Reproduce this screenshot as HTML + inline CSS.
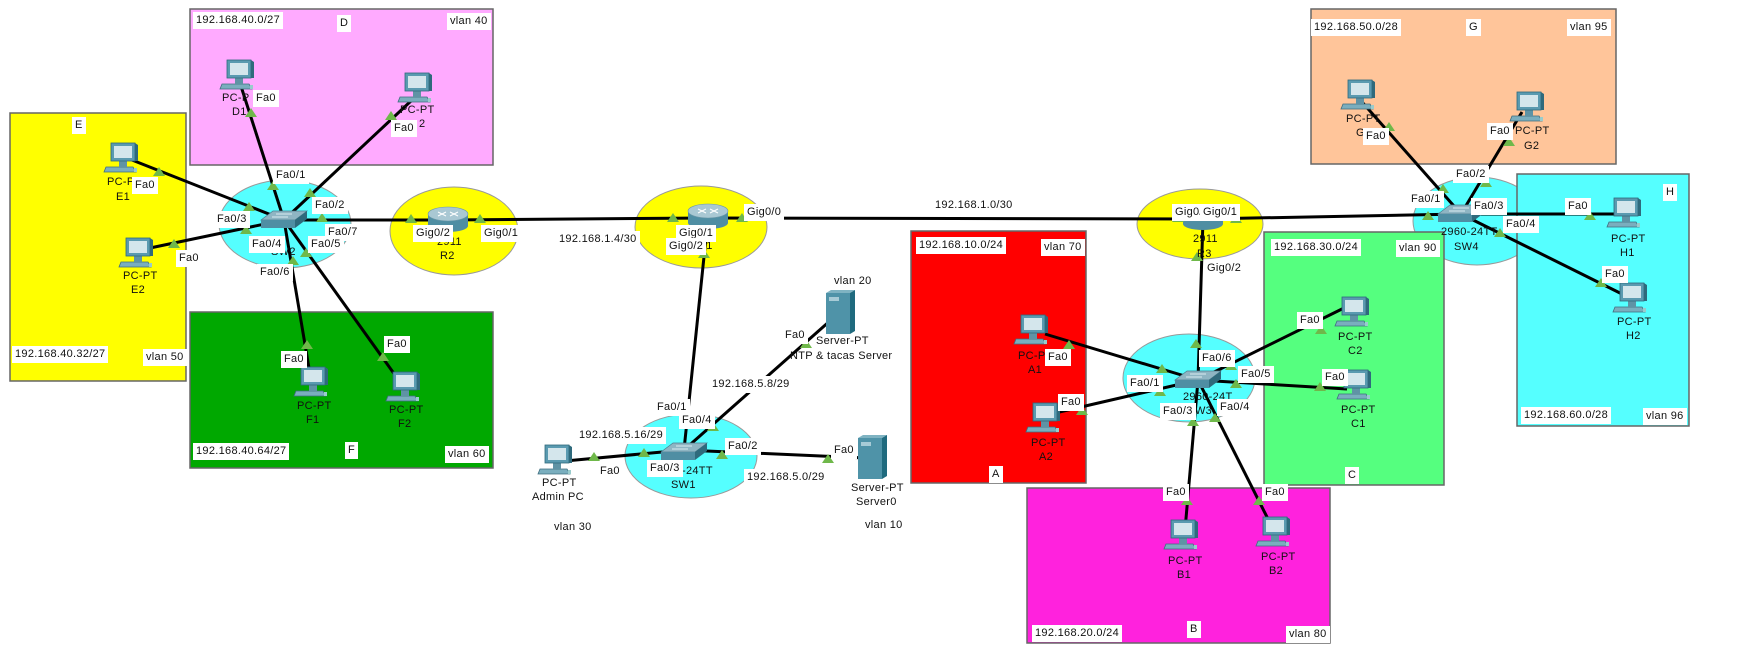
<!DOCTYPE html>
<html><head><meta charset="utf-8"><style>
html,body{margin:0;padding:0;background:#fff;}
#c{position:relative;width:1749px;height:672px;overflow:hidden;font-family:"Liberation Sans",sans-serif;}
svg{position:absolute;left:0;top:0;}
.l{position:absolute;background:#fff;font-size:11px;line-height:13px;padding:2px 3px;color:#111;white-space:nowrap;letter-spacing:0.3px;}
.t{position:absolute;font-size:11px;line-height:13px;color:#111;white-space:nowrap;text-align:center;letter-spacing:0.3px;}
</style></head><body><div id="c">
<svg width="1749" height="672" viewBox="0 0 1749 672">
<defs>
<g id="pc">
<polygon points="-17,9 10,9 13,14 -19,14" fill="#7aaebe" stroke="#3f6f80" stroke-width="0.8"/>
<rect x="-4" y="2" width="8" height="7" fill="#5f93a5"/>
<polygon points="12,-15 15,-13 15,3 12,3" fill="#2f6a7c"/>
<rect x="-12" y="-15" width="24" height="18" fill="#5a9ab0" stroke="#2f6a7c" stroke-width="0.8"/>
<rect x="-9" y="-12" width="18" height="12" fill="#d4e6ec"/>
<rect x="11" y="10" width="3" height="4" fill="#9cc"/>
</g>
<g id="sw">
<polygon points="-13,-8 21,-8 9,1 -25,1" fill="#8fb5c3" stroke="#4c7f90" stroke-width="0.7"/>
<line x1="-10" y1="-5" x2="6" y2="-5" stroke="#d8eaf0" stroke-width="1"/>
<line x1="-14" y1="-2" x2="2" y2="-2" stroke="#d8eaf0" stroke-width="1"/>
<rect x="-25" y="1" width="34" height="8" fill="#4f8ea3"/>
<polygon points="9,1 21,-8 21,0 9,9" fill="#2f6a7c"/>
</g>
<g id="rt">
<rect x="-20" y="-4" width="40" height="12" fill="#4f8ea3"/>
<ellipse cx="0" cy="8" rx="20" ry="6" fill="#4f8ea3"/>
<ellipse cx="0" cy="-4" rx="20" ry="7" fill="#a9c8d3" stroke="#6a98a8" stroke-width="0.6"/>
<path d="M-10,-6 L-2,-2 M2,-6 L10,-2 M-10,-2 L-2,-6 M2,-2 L10,-6" stroke="#fff" stroke-width="1"/>
</g>
<g id="srv">
<polygon points="-12,-20 -7,-23 17,-23 12,-20" fill="#7fb3c2"/>
<polygon points="12,-20 17,-23 17,18 12,21" fill="#1f6a7e"/>
<rect x="-12" y="-20" width="24" height="41" fill="#4f93a8"/>
<rect x="-9" y="-16" width="10" height="4" fill="#a7cbd6"/>
</g>
<g id="tr"><polygon points="0,-5 6,4 -6,4" fill="#6fb84a"/></g>
</defs>
<rect x="190" y="9" width="303" height="156" fill="#ffaaff" stroke="#666" stroke-width="1.5"/>
<rect x="10" y="113" width="176" height="268" fill="#ffff00" stroke="#666" stroke-width="1.5"/>
<rect x="190" y="312" width="303" height="156" fill="#00a800" stroke="#666" stroke-width="1.5"/>
<rect x="1311" y="9" width="305" height="155" fill="#ffc59a" stroke="#666" stroke-width="1.5"/>
<ellipse cx="1477" cy="221" rx="64" ry="44" fill="#55ffff" stroke="#999" stroke-width="1"/>
<rect x="1517" y="174" width="172" height="252" fill="#55ffff" stroke="#666" stroke-width="1.5"/>
<rect x="911" y="231" width="175" height="252" fill="#ff0000" stroke="#666" stroke-width="1.5"/>
<ellipse cx="1189" cy="378" rx="66" ry="44" fill="#55ffff" stroke="#999" stroke-width="1"/>
<rect x="1264" y="232" width="180" height="253" fill="#55ff7f" stroke="#666" stroke-width="1.5"/>
<rect x="1027" y="488" width="303" height="155" fill="#ff22dd" stroke="#666" stroke-width="1.5"/>
<ellipse cx="285" cy="224" rx="66" ry="44" fill="#55ffff" stroke="#999" stroke-width="1"/>
<ellipse cx="454" cy="231" rx="64" ry="44" fill="#ffff00" stroke="#999" stroke-width="1"/>
<ellipse cx="701" cy="227" rx="66" ry="41" fill="#ffff00" stroke="#999" stroke-width="1"/>
<ellipse cx="1200" cy="224" rx="63" ry="35" fill="#ffff00" stroke="#999" stroke-width="1"/>
<ellipse cx="691" cy="456" rx="66" ry="42" fill="#55ffff" stroke="#999" stroke-width="1"/>
<g stroke="#000" stroke-width="3" fill="none">
<line x1="284" y1="220" x2="239" y2="80"/>
<line x1="284" y1="220" x2="412" y2="100"/>
<line x1="284" y1="220" x2="132" y2="160"/>
<line x1="284" y1="220" x2="150" y2="248"/>
<line x1="284" y1="220" x2="311" y2="380"/>
<line x1="284" y1="220" x2="400" y2="382"/>
<line x1="284" y1="220" x2="448" y2="220"/>
<line x1="448" y1="220" x2="708" y2="218"/>
<line x1="708" y1="218" x2="1203" y2="219"/>
<line x1="1203" y1="219" x2="1461" y2="214"/>
<line x1="708" y1="218" x2="684" y2="450"/>
<line x1="684" y1="450" x2="840" y2="312"/>
<line x1="684" y1="450" x2="565" y2="461"/>
<line x1="684" y1="450" x2="866" y2="458"/>
<line x1="1203" y1="219" x2="1198" y2="380"/>
<line x1="1198" y1="380" x2="1045" y2="334"/>
<line x1="1198" y1="380" x2="1055" y2="413"/>
<line x1="1198" y1="380" x2="1346" y2="307"/>
<line x1="1198" y1="380" x2="1347" y2="389"/>
<line x1="1198" y1="380" x2="1185" y2="530"/>
<line x1="1198" y1="380" x2="1270" y2="523"/>
<line x1="1461" y1="214" x2="1362" y2="102"/>
<line x1="1461" y1="214" x2="1522" y2="112"/>
<line x1="1461" y1="214" x2="1620" y2="214"/>
<line x1="1461" y1="214" x2="1626" y2="296"/>
</g>
<use href="#pc" x="239" y="75"/><use href="#pc" x="417" y="88"/>
<use href="#pc" x="123" y="158"/><use href="#pc" x="138" y="253"/>
<use href="#pc" x="313" y="382"/><use href="#pc" x="405" y="387"/>
<use href="#pc" x="557" y="460"/>
<use href="#pc" x="1033" y="330"/><use href="#pc" x="1045" y="418"/>
<use href="#pc" x="1183" y="535"/><use href="#pc" x="1275" y="532"/>
<use href="#pc" x="1354" y="312"/><use href="#pc" x="1356" y="385"/>
<use href="#pc" x="1360" y="95"/><use href="#pc" x="1529" y="107"/>
<use href="#pc" x="1626" y="213"/><use href="#pc" x="1632" y="298"/>
<use href="#srv" x="838" y="313"/><use href="#srv" x="870" y="458"/>
<use href="#sw" x="286" y="219"/><use href="#sw" x="686" y="451"/>
<use href="#sw" x="1200" y="379"/><use href="#sw" x="1463" y="213"/>
<use href="#rt" x="448" y="218"/><use href="#rt" x="708" y="215"/><use href="#rt" x="1203" y="216"/>
<use href="#tr" x="251" y="113"/><use href="#tr" x="273" y="186"/>
<use href="#tr" x="391" y="116"/><use href="#tr" x="310" y="193"/>
<use href="#tr" x="159" y="172"/><use href="#tr" x="249" y="207"/>
<use href="#tr" x="174" y="244"/><use href="#tr" x="246" y="230"/>
<use href="#tr" x="307" y="345"/><use href="#tr" x="293" y="261"/>
<use href="#tr" x="383" y="357"/><use href="#tr" x="306" y="253"/>
<use href="#tr" x="322" y="218"/><use href="#tr" x="411" y="219"/>
<use href="#tr" x="480" y="219"/><use href="#tr" x="673" y="218"/>
<use href="#tr" x="742" y="218"/><use href="#tr" x="1178" y="218"/>
<use href="#tr" x="1236" y="219"/><use href="#tr" x="1428" y="216"/>
<use href="#tr" x="1389" y="127"/><use href="#tr" x="1443" y="189"/>
<use href="#tr" x="1509" y="142"/><use href="#tr" x="1486" y="183"/>
<use href="#tr" x="1590" y="216"/><use href="#tr" x="1601" y="283"/><use href="#tr" x="1500" y="233"/>
<use href="#tr" x="704" y="254"/>
<use href="#tr" x="806" y="344"/><use href="#tr" x="713" y="427"/>
<use href="#tr" x="594" y="457"/><use href="#tr" x="644" y="453"/>
<use href="#tr" x="722" y="455"/><use href="#tr" x="828" y="459"/>
<use href="#tr" x="1197" y="257"/><use href="#tr" x="1196" y="344"/>
<use href="#tr" x="1069" y="345"/><use href="#tr" x="1162" y="369"/>
<use href="#tr" x="1082" y="411"/><use href="#tr" x="1160" y="392"/>
<use href="#tr" x="1321" y="330"/><use href="#tr" x="1231" y="366"/>
<use href="#tr" x="1320" y="387"/><use href="#tr" x="1236" y="384"/>
<use href="#tr" x="1187" y="501"/><use href="#tr" x="1193" y="422"/>
<use href="#tr" x="1259" y="501"/><use href="#tr" x="1215" y="418"/>
</svg>
<div class="t" style="left:222px;top:92px">PC-P</div><div class="t" style="left:232px;top:106px">D1</div>
<div class="t" style="left:400px;top:104px">PC-PT</div><div class="t" style="left:419px;top:118px">2</div>
<div class="t" style="left:107px;top:176px">PC-P</div><div class="t" style="left:116px;top:191px">E1</div>
<div class="t" style="left:123px;top:270px">PC-PT</div><div class="t" style="left:131px;top:284px">E2</div>
<div class="t" style="left:297px;top:400px">PC-PT</div><div class="t" style="left:306px;top:414px">F1</div>
<div class="t" style="left:389px;top:404px">PC-PT</div><div class="t" style="left:398px;top:418px">F2</div>
<div class="t" style="left:271px;top:246px">SW2</div>
<div class="t" style="left:437px;top:236px">2911</div><div class="t" style="left:440px;top:250px">R2</div>
<div class="t" style="left:698px;top:240px">R1</div>
<div class="t" style="left:542px;top:477px">PC-PT</div><div class="t" style="left:532px;top:491px">Admin PC</div>
<div class="t" style="left:682px;top:465px">-24TT</div><div class="t" style="left:671px;top:479px">SW1</div>
<div class="t" style="left:816px;top:335px">Server-PT</div><div class="t" style="left:790px;top:350px">NTP &amp; tacas Server</div>
<div class="t" style="left:851px;top:482px">Server-PT</div><div class="t" style="left:856px;top:496px">Server0</div>
<div class="t" style="left:1193px;top:233px">2911</div><div class="t" style="left:1197px;top:248px">R3</div>
<div class="t" style="left:1018px;top:350px">PC-P</div><div class="t" style="left:1028px;top:364px">A1</div>
<div class="t" style="left:1031px;top:437px">PC-PT</div><div class="t" style="left:1039px;top:451px">A2</div>
<div class="t" style="left:1183px;top:391px">2960-24T</div><div class="t" style="left:1195px;top:405px">W3</div>
<div class="t" style="left:1168px;top:555px">PC-PT</div><div class="t" style="left:1177px;top:569px">B1</div>
<div class="t" style="left:1261px;top:551px">PC-PT</div><div class="t" style="left:1269px;top:565px">B2</div>
<div class="t" style="left:1338px;top:331px">PC-PT</div><div class="t" style="left:1348px;top:345px">C2</div>
<div class="t" style="left:1341px;top:404px">PC-PT</div><div class="t" style="left:1351px;top:418px">C1</div>
<div class="t" style="left:1346px;top:113px">PC-PT</div><div class="t" style="left:1356px;top:127px">G1</div>
<div class="t" style="left:1515px;top:125px">PC-PT</div><div class="t" style="left:1524px;top:140px">G2</div>
<div class="t" style="left:1441px;top:226px">2960-24TT</div><div class="t" style="left:1454px;top:241px">SW4</div>
<div class="t" style="left:1611px;top:233px">PC-PT</div><div class="t" style="left:1620px;top:247px">H1</div>
<div class="t" style="left:1617px;top:316px">PC-PT</div><div class="t" style="left:1626px;top:330px">H2</div>
<div class="l" style="left:193px;top:12px">192.168.40.0/27</div>
<div class="l" style="left:337px;top:15px">D</div>
<div class="l" style="left:447px;top:13px">vlan 40</div>
<div class="l" style="left:72px;top:117px">E</div>
<div class="l" style="left:12px;top:346px">192.168.40.32/27</div>
<div class="l" style="left:143px;top:349px">vlan 50</div>
<div class="l" style="left:193px;top:443px">192.168.40.64/27</div>
<div class="l" style="left:345px;top:442px">F</div>
<div class="l" style="left:445px;top:446px">vlan 60</div>
<div class="l" style="left:253px;top:90px">Fa0</div>
<div class="l" style="left:391px;top:120px">Fa0</div>
<div class="l" style="left:132px;top:177px">Fa0</div>
<div class="l" style="left:176px;top:250px">Fa0</div>
<div class="l" style="left:281px;top:351px">Fa0</div>
<div class="l" style="left:384px;top:336px">Fa0</div>
<div class="l" style="left:273px;top:167px">Fa0/1</div>
<div class="l" style="left:312px;top:197px">Fa0/2</div>
<div class="l" style="left:214px;top:211px">Fa0/3</div>
<div class="l" style="left:325px;top:224px">Fa0/7</div>
<div class="l" style="left:249px;top:236px">Fa0/4</div>
<div class="l" style="left:308px;top:236px">Fa0/5</div>
<div class="l" style="left:257px;top:264px">Fa0/6</div>
<div class="l" style="left:413px;top:225px">Gig0/2</div>
<div class="l" style="left:481px;top:225px">Gig0/1</div>
<div class="l" style="left:556px;top:231px">192.168.1.4/30</div>
<div class="l" style="left:744px;top:204px">Gig0/0</div>
<div class="l" style="left:676px;top:225px">Gig0/1</div>
<div class="l" style="left:666px;top:238px">Gig0/2</div>
<div class="l" style="left:932px;top:197px">192.168.1.0/30</div>
<div class="l" style="left:831px;top:273px">vlan 20</div>
<div class="l" style="left:782px;top:327px">Fa0</div>
<div class="l" style="left:709px;top:376px">192.168.5.8/29</div>
<div class="l" style="left:654px;top:399px">Fa0/1</div>
<div class="l" style="left:679px;top:412px">Fa0/4</div>
<div class="l" style="left:576px;top:427px">192.168.5.16/29</div>
<div class="l" style="left:725px;top:438px">Fa0/2</div>
<div class="l" style="left:647px;top:460px">Fa0/3</div>
<div class="l" style="left:744px;top:469px">192.168.5.0/29</div>
<div class="l" style="left:597px;top:463px">Fa0</div>
<div class="l" style="left:551px;top:519px">vlan 30</div>
<div class="l" style="left:831px;top:442px">Fa0</div>
<div class="l" style="left:862px;top:517px">vlan 10</div>
<div class="l" style="left:916px;top:237px">192.168.10.0/24</div>
<div class="l" style="left:1041px;top:239px">vlan 70</div>
<div class="l" style="left:1045px;top:349px">Fa0</div>
<div class="l" style="left:1058px;top:394px">Fa0</div>
<div class="l" style="left:989px;top:466px">A</div>
<div class="l" style="left:1204px;top:260px">Gig0/2</div>
<div class="l" style="left:1172px;top:204px">Gig0/</div>
<div class="l" style="left:1200px;top:204px">Gig0/1</div>
<div class="l" style="left:1199px;top:350px">Fa0/6</div>
<div class="l" style="left:1238px;top:366px">Fa0/5</div>
<div class="l" style="left:1127px;top:375px">Fa0/1</div>
<div class="l" style="left:1160px;top:403px">Fa0/3</div>
<div class="l" style="left:1217px;top:399px">Fa0/4</div>
<div class="l" style="left:1297px;top:312px">Fa0</div>
<div class="l" style="left:1322px;top:369px">Fa0</div>
<div class="l" style="left:1271px;top:239px">192.168.30.0/24</div>
<div class="l" style="left:1396px;top:240px">vlan 90</div>
<div class="l" style="left:1345px;top:467px">C</div>
<div class="l" style="left:1163px;top:484px">Fa0</div>
<div class="l" style="left:1262px;top:484px">Fa0</div>
<div class="l" style="left:1032px;top:625px">192.168.20.0/24</div>
<div class="l" style="left:1187px;top:621px">B</div>
<div class="l" style="left:1286px;top:626px">vlan 80</div>
<div class="l" style="left:1311px;top:19px">192.168.50.0/28</div>
<div class="l" style="left:1466px;top:19px">G</div>
<div class="l" style="left:1567px;top:19px">vlan 95</div>
<div class="l" style="left:1363px;top:128px">Fa0</div>
<div class="l" style="left:1487px;top:123px">Fa0</div>
<div class="l" style="left:1453px;top:166px">Fa0/2</div>
<div class="l" style="left:1408px;top:191px">Fa0/1</div>
<div class="l" style="left:1471px;top:198px">Fa0/3</div>
<div class="l" style="left:1503px;top:216px">Fa0/4</div>
<div class="l" style="left:1663px;top:184px">H</div>
<div class="l" style="left:1565px;top:198px">Fa0</div>
<div class="l" style="left:1602px;top:266px">Fa0</div>
<div class="l" style="left:1521px;top:407px">192.168.60.0/28</div>
<div class="l" style="left:1643px;top:408px">vlan 96</div>
</div></body></html>
